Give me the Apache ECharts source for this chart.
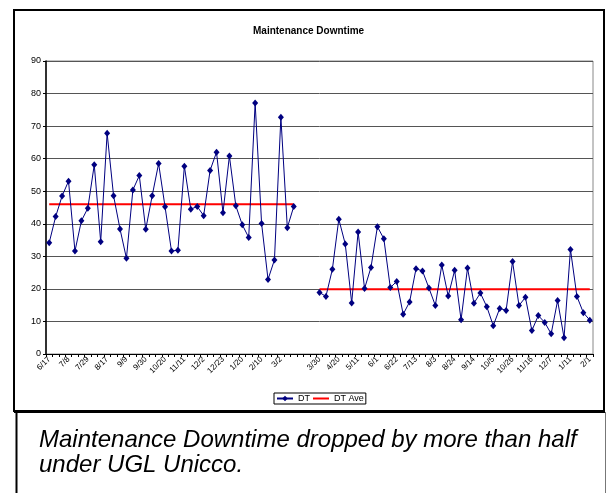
<!DOCTYPE html>
<html>
<head>
<meta charset="utf-8">
<script src="https://cdn.jsdelivr.net/npm/echarts@6/dist/echarts.min.js"></script>
<style>
  html, body { margin: 0; padding: 0; background: #fff; }
  #chart { width: 607px; height: 493px; }
</style>
</head>
<body>
<div id="chart"></div>
<script>
// Tick labels shown every third category
var tickLabels = ['6/17','7/8','7/29','8/17','9/9','9/30','10/20','11/11','12/2','12/23','1/20','2/10','3/2','',
  '3/30','4/20','5/11','6/1','6/22','7/13','8/3','8/24','9/14','10/5','10/26','11/16','12/7','1/11','2/1'];

// DT values (null = no data)
var dtValues = [34.2, 42.2, 48.5, 53.1, 31.6, 40.9, 44.8, 58.1, 34.5, 67.8, 48.6, 38.4, 29.4, 50.4, 54.8,
  38.3, 48.6, 58.5, 45.2, 31.6, 31.9, 57.7, 44.5, 45.3, 42.5, 56.4, 62.0, 43.4, 60.8, 45.5, 39.7, 35.8,
  77.1, 40.1, 22.9, 28.9, 72.7, 38.8, 45.3,
  null, null, null,
  18.9, 17.7, 26.0, 41.4, 33.8, 15.7, 37.5, 20.1, 26.6, 39.1, 35.4, 20.4, 22.3, 12.2, 16.0, 26.2, 25.5,
  20.3, 14.9, 27.3, 17.8, 25.7, 10.5, 26.4, 15.6, 18.7, 14.5, 8.7, 14.0, 13.4, 28.4, 14.9, 17.4, 7.2,
  11.8, 9.7, 6.2, 16.4, 5.0, 32.1, 17.7, 12.7, 10.4];

// DT average levels: before and after
var aveLevels = [46.0, 19.9];
var splitIndex = 39; // first index of the later period (gap start)

var categories = dtValues.map(function (v, i) { return i % 3 === 0 ? tickLabels[i / 3] : ''; });
var aveValues = dtValues.map(function (v, i) {
  if (v == null) return null;
  return i < splitIndex ? aveLevels[0] : aveLevels[1];
});

var FONT = '"Liberation Sans", Arial, sans-serif';
var chart = echarts.init(document.getElementById('chart'), null, { renderer: 'canvas' });
chart.setOption({
  animation: false,
  backgroundColor: '#fff',
  title: {
    text: 'Maintenance Downtime',
    left: 253, top: 26, padding: 0,
    textStyle: { fontFamily: FONT, fontSize: 10, fontWeight: 'bold', color: '#000' }
  },
  legend: {
    left: 274, top: 393,
    padding: [1, 2, 1, 2],
    itemWidth: 16, itemHeight: 7, itemGap: 3,
    borderColor: '#000', borderWidth: 1,
    textStyle: { fontFamily: FONT, fontSize: 9, color: '#000' },
    data: [
      { name: 'DT' },
      { name: 'DT Ave', icon: 'path://M0,0H16V2H0Z' }
    ]
  },
  grid: {
    left: 46, right: 14, top: 61, bottom: 139,
    show: true, borderColor: '#888', borderWidth: 1, backgroundColor: 'transparent'
  },
  xAxis: {
    type: 'category',
    data: categories,
    boundaryGap: true,
    axisLine: { lineStyle: { color: '#000', width: 1 } },
    axisTick: { show: true, interval: 0, length: 3, lineStyle: { color: '#000' } },
    axisLabel: { interval: 2, rotate: 45, fontSize: 8, fontFamily: FONT, color: '#000', margin: 4 },
    splitLine: { show: false }
  },
  yAxis: {
    type: 'value',
    min: 0, max: 90, interval: 10,
    axisLine: { show: true, lineStyle: { color: '#000', width: 1.5 } },
    axisTick: { show: true, length: 3, lineStyle: { color: '#000' } },
    axisLabel: { fontSize: 9, fontFamily: FONT, color: '#000', margin: 5 },
    splitLine: { show: true, lineStyle: { color: '#555', width: 1 } }
  },
  series: [
    {
      name: 'DT', type: 'line', data: dtValues,
      connectNulls: false,
      showAllSymbol: true,
      symbol: 'diamond', symbolSize: [6, 7],
      lineStyle: { color: '#000080', width: 1 },
      itemStyle: { color: '#000080' },
      z: 3
    },
    {
      name: 'DT Ave', type: 'line', data: aveValues,
      connectNulls: false,
      symbol: 'none',
      lineStyle: { color: '#ff0000', width: 2 },
      itemStyle: { color: '#ff0000' },
      z: 2
    }
  ],
  graphic: [
    { type: 'rect', shape: { x: 14, y: 10, width: 590, height: 401 },
      style: { fill: 'none', stroke: '#000', lineWidth: 2 }, silent: true },
    { type: 'line', shape: { x1: 14, y1: 412, x2: 605, y2: 412 },
      style: { stroke: '#000', lineWidth: 2 }, silent: true },
    { type: 'line', shape: { x1: 16.5, y1: 412, x2: 16.5, y2: 493 },
      style: { stroke: '#000', lineWidth: 2 }, silent: true },
    { type: 'line', shape: { x1: 605.5, y1: 412, x2: 605.5, y2: 493 },
      style: { stroke: '#777', lineWidth: 1 }, silent: true },
    { type: 'text', left: 39, top: 428, silent: true,
      style: {
        text: 'Maintenance Downtime dropped by more than half\nunder UGL Unicco.',
        font: 'italic 24px ' + FONT, fill: '#000', lineHeight: 25
      } }
  ]
});
</script>
</body>
</html>
